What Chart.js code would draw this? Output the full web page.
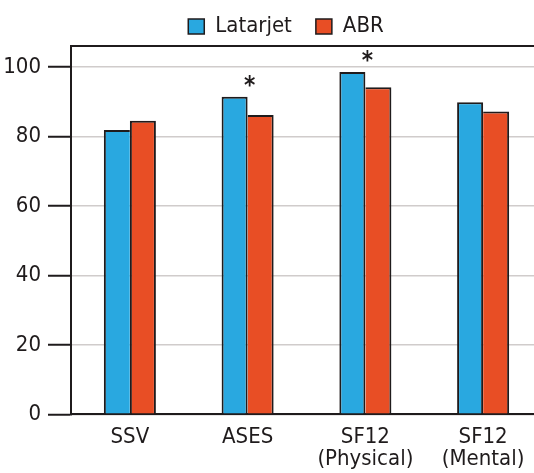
<!DOCTYPE html>
<html>
<head>
<meta charset="utf-8">
<script src="https://cdn.jsdelivr.net/npm/chart.js@4.4.0/dist/chart.umd.min.js"></script>
<style>
  html, body { margin: 0; padding: 0; background: #fff; overflow: hidden; }
  #wrap { width: 534px; height: 473px; overflow: hidden; }
</style>
</head>
<body>
<div id="wrap"><canvas id="chart" width="572" height="473"></canvas></div>
<script>
// ── Data ───────────────────────────────────────────────────────────
const categories = ['SSV', 'ASES', ['SF12', '(Physical)'], ['SF12', '(Mental)']];
const latarjet   = [81.9, 91.5, 98.6, 89.9];
const abr        = [84.6, 86.2, 94.2, 87.2];
const sigMarks   = ['', '*', '*', ''];
const yTicks     = [0, 20, 40, 60, 80, 100];

const FONT  = "'DejaVu Sans Condensed', 'Liberation Sans', sans-serif";
const INK   = '#1f1b1c';
const BLUE  = '#29a8e0';
const RED   = '#e84e25';

// Shared edge between the two bars is drawn once, by the taller bar
const latBorder = ctx => ({
  top: 2, left: 2, bottom: 0,
  right: latarjet[ctx.dataIndex] >= abr[ctx.dataIndex] ? 2 : 0,
});
const abrBorder = ctx => ({
  top: 2, right: 2, bottom: 0,
  left: abr[ctx.dataIndex] > latarjet[ctx.dataIndex] ? 2 : 0,
});

// Asterisks above significant groups
const sigPlugin = {
  id: 'sig',
  afterDatasetsDraw(chart) {
    const { ctx } = chart;
    const a = chart.getDatasetMeta(0).data;
    const b = chart.getDatasetMeta(1).data;
    ctx.save();
    ctx.fillStyle = INK;
    ctx.font = `bold 24px ${FONT}`;
    ctx.textAlign = 'center';
    ctx.textBaseline = 'middle';
    sigMarks.forEach((m, i) => {
      if (!m) return;
      const x = (a[i].x + b[i].x) / 2 + 2;
      const y = Math.min(a[i].y, b[i].y) - 10;
      ctx.fillText(m, x, y);
    });
    ctx.restore();
  },
};

new Chart(document.getElementById('chart').getContext('2d'), {
  type: 'bar',
  data: {
    labels: categories,
    datasets: [
      {
        label:           'Latarjet',
        data:            latarjet,
        backgroundColor: BLUE,
        borderColor:     INK,
        borderWidth:     latBorder,
        borderSkipped:   false,
      },
      {
        label:           'ABR',
        data:            abr,
        backgroundColor: RED,
        borderColor:     INK,
        borderWidth:     abrBorder,
        borderSkipped:   false,
      },
    ],
  },
  options: {
    responsive: false,
    animation: false,
    categoryPercentage: 0.442,
    barPercentage: 1,
    layout: { padding: { top: -8.5, right: 0, left: 0, bottom: 0 } },
    plugins: {
      legend: {
        maxHeight: 54.5,
        labels: {
          color: INK,
          font: { family: FONT, size: 22 },
          boxWidth: 16,
          boxHeight: 15,
          padding: 24,
          generateLabels: chart => chart.data.datasets.map((d, i) => ({
            text:          d.label,
            fillStyle:     d.backgroundColor,
            strokeStyle:   INK,
            lineWidth:     1.5,
            fontColor:     INK,
            datasetIndex:  i,
          })),
        },
      },
      tooltip: { enabled: false },
    },
    scales: {
      x: {
        grid:   { display: false },
        border: { color: INK, width: 2 },
        ticks:  { color: INK, font: { family: FONT, size: 22, lineHeight: 1.0 }, padding: 4, maxRotation: 0, autoSkip: false },
        afterFit: s => { s.height = 58.7; },
      },
      xTop: {
        position: 'top',
        grid:   { display: false },
        border: { color: INK, width: 2 },
        ticks:  { display: false },
        afterFit: s => { s.height = 0; },
      },
      y: {
        min: 0,
        max: 106.1,
        grid:   { color: '#d0cccb', lineWidth: 1.5, tickColor: INK, tickLength: 23, tickWidth: 2 },
        border: { color: INK, width: 2 },
        ticks:  { color: INK, font: { family: FONT, size: 22 }, padding: 7, stepSize: 20 },
        afterBuildTicks: s => { s.ticks = yTicks.map(v => ({ value: v })); },
        afterFit: s => { s.width = 71; },
      },
      // empty spacer on the right, so the legend sits where it does in the figure
      yRight: {
        position: 'right',
        grid:   { display: false },
        border: { display: false },
        ticks:  { display: false },
        afterFit: s => { s.width = 30; },
      },
    },
  },
  plugins: [sigPlugin],
});
</script>
</body>
</html>
